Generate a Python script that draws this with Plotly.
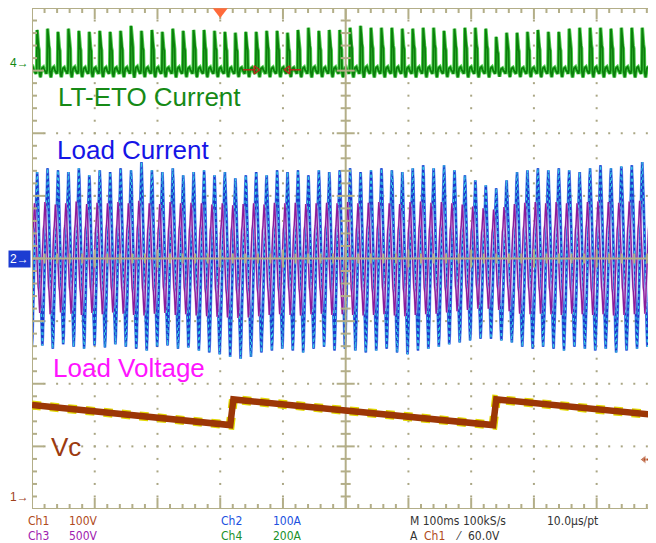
import plotly.graph_objects as go

# ---------------- data ----------------
period_ms = 16.63          # one mains cycle (≈60 Hz) on the 100 ms/div screen
cycle0_ms = -11.8          # start of first (partial) cycle
ch4_base_A = -36           # LT-ETO current baseline between pulses
ch4_peaks_A = [104,
               104, 108, 98, 108, 101, 98, 101, 98, 101, 117, 101, 104, 98, 108, 101, 104, 104, 101, 98, 95,
               98, 98, 101, 101, 95, 104, 111, 101, 104,
               104, 111, 117, 111, 111, 111, 108, 108, 111, 111, 101, 108, 111, 111, 108, 82, 95, 95, 98, 104,
               98, 98, 108, 111, 111, 111, 108, 111, 111, 111, 104]
ch2_pos_A = [138,
             138, 144, 141, 138, 144, 133, 141, 138, 144, 141, 154, 141, 138, 144, 133, 138, 141, 133, 138, 128,
             133, 138, 133, 141, 138, 141, 133, 141, 138, 141, 144, 138, 141, 144, 141, 138, 144, 149, 144, 149,
             141, 133, 125, 117, 112, 125, 138, 141, 144, 141, 144, 141, 138, 144, 149, 144, 147, 149, 154, 149]
ch2_neg_A = [-141,
             -139, -144, -137, -141, -144, -139, -142, -137, -141, -144, -147, -141, -139, -144, -142, -147,
             -150, -153, -157, -160, -157, -150, -147, -144, -147, -150, -144, -141, -147, -144, -147, -150,
             -147, -144, -150, -153, -147, -144, -141, -137, -134, -131, -128, -128, -131, -134, -141, -144,
             -141, -144, -147, -141, -144, -147, -144, -150, -147, -144, -141, -144]
ch3_pos_V = [440,
             440, 450, 430, 440, 455, 435, 445, 440, 450, 440, 460, 440, 435, 450, 440, 445, 440, 430, 440, 425,
             435, 440, 430, 445, 440, 445, 435, 440, 445, 440, 450, 440, 445, 450, 440, 435, 450, 455, 445, 450,
             440, 430, 415, 400, 390, 410, 435, 445, 450, 440, 450, 440, 440, 450, 455, 450, 445, 455, 460, 450]
ch3_neg_V = [-440,
             -435, -445, -430, -440, -450, -435, -445, -430, -440, -450, -455, -440, -435, -450, -445, -455,
             -460, -465, -470, -475, -470, -460, -450, -445, -450, -455, -445, -440, -450, -445, -450, -455,
             -450, -445, -455, -460, -450, -445, -440, -430, -420, -410, -400, -400, -410, -420, -440, -445,
             -440, -445, -450, -440, -445, -450, -445, -455, -450, -445, -440, -445]
vc_t_ms = [0, 316, 321, 735, 740, 995]
vc_V = [147, 115, 156, 115, 156, 131]

# one-cycle wave shapes (phase in cycle, normalised level)
ch4_shape_phase = [0.00, 0.08, 0.16, 0.20, 0.26, 0.32, 0.38, 0.42, 0.52, 0.65, 0.80, 0.90]
ch4_shape_level = [0.05, 0.00, 0.08, 1.00, 0.82, 0.62, 0.55, 0.05, -0.08, 0.12, 0.15, 0.08]
sin_phase = [0.00, 0.05, 0.10, 0.15, 0.20, 0.25, 0.30, 0.35, 0.40, 0.45,
             0.50, 0.55, 0.60, 0.65, 0.70, 0.75, 0.80, 0.85, 0.90, 0.95]
sin_level = [0.30, 0.52, 0.60, 0.88, 1.00, 0.88, 0.60, 0.52, 0.30, 0.00,
             -0.30, -0.52, -0.60, -0.88, -1.00, -0.88, -0.60, -0.52, -0.30, 0.00]
ch3_phase_shift = -0.25

# scope settings
ch1_scale, ch1_pos = 100.0, 0.19   # V/div, ground position (div from bottom)
ch2_scale, ch2_pos = 100.0, 4.0
ch3_scale, ch3_pos = 500.0, 4.0
ch4_scale, ch4_pos = 200.0, 7.13
trig_level_V = 60.0
trig_time_ms = 300.0

# ---------------- geometry ----------------
OFF = 8                     # page body margin
W, H = 656 - OFF, 543 - OFF
L, T, B = 32 - OFF, 8 - OFF, 34
XMAX = 994.6     # ms visible (10 div = 1000 ms; right edge just off-screen)
DIVPX_X = (W - L) / XMAX * 100
DIVPX_Y = (H - T - B) / 8.0

GRAT = "#b3ae88"
DOT = "#aaa684"


def px_x(xp):
    return (xp - OFF - L) / (W - L)


def px_y(yp):
    return (H - B - (yp - OFF)) / (H - T - B)


def ms_at(xp):
    return (xp - OFF - L) / DIVPX_X * 100


def build(peaks, neg, phases, levels, scale, pos, shift=0.0, base=None):
    xs, ys = [], []
    for k in range(len(peaks)):
        for ph, lv in zip(phases, levels):
            t = cycle0_ms + (k + ph + shift) * period_ms
            if base is not None:
                v = base + lv * (peaks[k] - base)
            else:
                v = lv * peaks[k] if lv >= 0 else -lv * neg[k]
            xs.append(t)
            ys.append(pos + v / scale)
    return xs, ys


fig = go.Figure()

# ---------------- graticule dots ----------------
dx, dy = [], []
for i in range(1, 10):
    if i == 5:
        continue
    for j in range(0, 41):
        dx.append(i * 100)
        dy.append(j * 0.2)
for j in range(1, 8):
    if j == 4:
        continue
    for i in range(0, 51):
        dx.append(i * 20)
        dy.append(j)
fig.add_trace(go.Scatter(x=dx, y=dy, mode="markers", hoverinfo="skip",
                         marker=dict(symbol="square", size=2, color=DOT, line=dict(width=0))))

# ---------------- channel 2 : load current ----------------
x2, y2 = build(ch2_pos_A, ch2_neg_A, sin_phase, sin_level, ch2_scale, ch2_pos)
fig.add_trace(go.Scatter(x=x2, y=y2, mode="lines", hoverinfo="skip",
                         line=dict(color="#74a0f4", width=3.0)))
fig.add_trace(go.Scatter(x=x2, y=y2, mode="lines", hoverinfo="skip",
                         line=dict(color="#1a36cc", width=1.9)))
fig.add_trace(go.Scatter(x=x2, y=y2, mode="lines", hoverinfo="skip",
                         line=dict(color="#35d8e6", width=1, dash="dot")))

# ---------------- channel 3 : load voltage ----------------
x3, y3 = build(ch3_pos_V, ch3_neg_V, sin_phase, sin_level, ch3_scale, ch3_pos, shift=ch3_phase_shift)
fig.add_trace(go.Scatter(x=x3, y=y3, mode="lines", hoverinfo="skip",
                         line=dict(color="#d7a6e2", width=2.0)))
fig.add_trace(go.Scatter(x=x3, y=y3, mode="lines", hoverinfo="skip",
                         line=dict(color="#8a1c9a", width=1.3)))

# ---------------- channel 4 : LT-ETO current ----------------
x4, y4 = build(ch4_peaks_A, None, ch4_shape_phase, ch4_shape_level, ch4_scale, ch4_pos, base=ch4_base_A)
fig.add_trace(go.Scatter(x=x4, y=y4, mode="lines", hoverinfo="skip",
                         line=dict(color="#4ccf4c", width=3.6)))
fig.add_trace(go.Scatter(x=x4, y=y4, mode="lines", hoverinfo="skip",
                         line=dict(color="#0c7e0c", width=1.8)))

# ---------------- graticule frame, centre cross and ticks (drawn over traces) ----------------
lx, ly = [], []
for seg in [((0, 0), (0, 8)), ((0, 8), (1000, 8)), ((0, 0), (1000, 0)),
            ((500, 0), (500, 8)), ((0, 4), (1000, 4))]:
    lx += [seg[0][0], seg[1][0], None]
    ly += [seg[0][1], seg[1][1], None]
mx = 5 / DIVPX_X * 100
Mx = 12 / DIVPX_X * 100
my = 5 / DIVPX_Y
My = 11 / DIVPX_Y
for j in range(0, 41):
    y = j * 0.2
    ln = Mx if j % 5 == 0 else mx
    lx += [0, ln, None]; ly += [y, y, None]
    ln2 = (9 / DIVPX_X * 100) if j % 5 == 0 else (5 / DIVPX_X * 100)
    lx += [500 - ln2, 500 + ln2, None]; ly += [y, y, None]
for i in range(0, 51):
    x = i * 20
    ln = My if i % 5 == 0 else my
    lx += [x, x, None]; ly += [8, 8 - ln, None]
    lx += [x, x, None]; ly += [0, ln, None]
    ln2 = (9 / DIVPX_Y) if i % 5 == 0 else (5 / DIVPX_Y)
    lx += [x, x, None]; ly += [4 - ln2, 4 + ln2, None]
fig.add_trace(go.Scatter(x=lx, y=ly, mode="lines", hoverinfo="skip",
                         line=dict(color=GRAT, width=2)))

# ---------------- channel 1 : Vc ----------------
vy = [ch1_pos + v / ch1_scale for v in vc_V]
fig.add_trace(go.Scatter(x=vc_t_ms, y=vy, mode="lines", hoverinfo="skip",
                         line=dict(color="#e2d800", width=9, dash="dot")))
fig.add_trace(go.Scatter(x=vc_t_ms, y=vy, mode="lines", hoverinfo="skip",
                         line=dict(color="#9c3606", width=6.5)))

# ---------------- markers ----------------
fig.add_trace(go.Scatter(x=[trig_time_ms], y=[8 - 3.5 / DIVPX_Y], mode="markers", hoverinfo="skip",
                         cliponaxis=False,
                         marker=dict(symbol="triangle-down", size=13, color="#ff6a3a", line=dict(width=0))))
ty = ch1_pos + trig_level_V / ch1_scale
fig.add_trace(go.Scatter(x=[ms_at(644), ms_at(656)], y=[ty, ty], mode="lines+markers",
                         hoverinfo="skip", cliponaxis=False,
                         line=dict(color="#b24a20", width=2),
                         marker=dict(symbol=["triangle-left", "circle"], size=[8, 0], color="#b24a20")))
my4 = ch4_pos - (70 - 62.7) / DIVPX_Y
ax1, ax2, bx1, bx2 = ms_at(243), ms_at(256), ms_at(288), ms_at(301)
fig.add_trace(go.Scatter(x=[ax1, ax2, None, bx1, bx2], y=[my4, my4, None, my4, my4], mode="lines",
                         hoverinfo="skip", line=dict(color="#b02a1a", width=1.5)))
fig.add_trace(go.Scatter(x=[ax2, bx1], y=[my4, my4], mode="markers", hoverinfo="skip",
                         marker=dict(symbol=["triangle-right-open", "triangle-left-open"], size=7,
                                     color="#b02a1a", line=dict(width=1.5))))

ann = []
BIG = "Liberation Sans, Arial, sans-serif"


def label(text, xp, yp, color, size=26, family=BIG, anchor="left"):
    ann.append(dict(text=text, x=px_x(xp), y=px_y(yp), xref="paper", yref="paper",
                    xanchor=anchor, yanchor="middle", showarrow=False,
                    font=dict(family=family, size=size, color=color)))


label("LT-ETO Current", 56, 97, "#168a16")
label("Load Current", 55, 150, "#1515e6")
label("Load Voltage", 51, 368, "#ff14ff")
label("Vc", 49, 447, "#9c3a10")

label("4→", 31, 63, "#118811", size=12, anchor="right")
label("1→", 31, 497, "#a0401a", size=12, anchor="right")
ann.append(dict(text="2→", x=px_x(31), y=px_y(259), xref="paper", yref="paper",
                xanchor="right", yanchor="middle", showarrow=False, bgcolor="#1c3cd2",
                borderpad=1, font=dict(family=BIG, size=12, color="white")))

SM = "Liberation Sans Narrow, DejaVu Sans Condensed, Arial Narrow, sans-serif"
for txt, xp, yp, c in [("Ch1", 26, 521, "#b04a1a"), ("100V", 67, 521, "#b04a1a"),
                       ("Ch3", 26, 536, "#a020b0"), ("500V", 67, 536, "#a020b0"),
                       ("Ch2", 219, 521, "#2050e0"), ("100A", 271, 521, "#2050e0"),
                       ("Ch4", 219, 536, "#20902a"), ("200A", 271, 536, "#20902a"),
                       ("M 100ms 100kS/s", 408, 521, "#333333"), ("10.0µs/pt", 545, 521, "#333333"),
                       ("A", 408, 536, "#333333"), ("Ch1", 422, 536, "#b04a1a"),
                       ("⁄", 454, 536, "#333333"), ("60.0V", 466, 536, "#333333")]:
    label(txt, xp, yp, c, size=12, family=SM)

fig.update_layout(
    width=W, height=H, autosize=False,
    margin=dict(l=L, r=0, t=T, b=B, pad=0),
    paper_bgcolor="white", plot_bgcolor="white",
    showlegend=False, annotations=ann,
    xaxis=dict(range=[0, XMAX], visible=False, fixedrange=True),
    yaxis=dict(range=[0, 8], visible=False, fixedrange=True),
)

fig.write_html("out.html")
